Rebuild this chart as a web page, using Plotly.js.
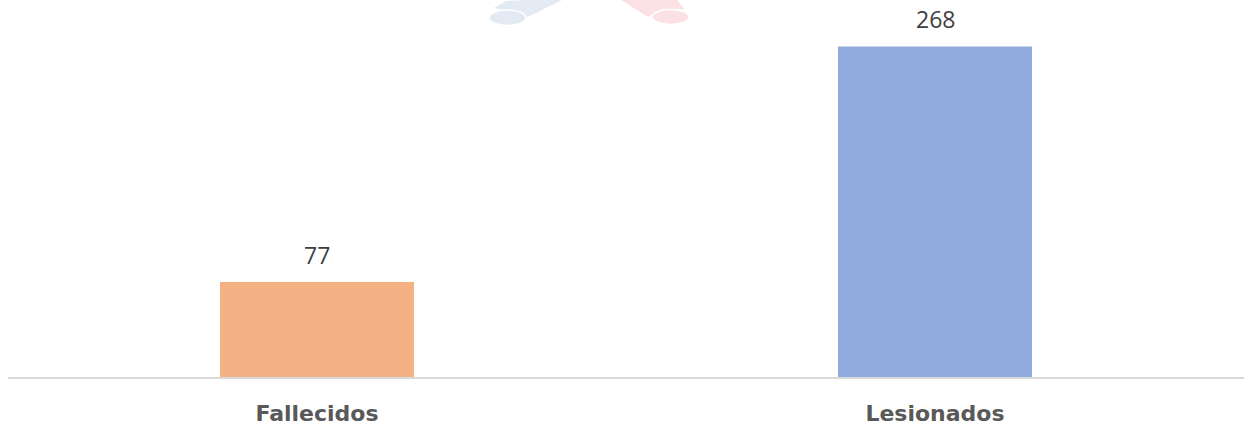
<!DOCTYPE html>
<html>
<head>
<meta charset="utf-8">
<script src="https://cdn.plot.ly/plotly-3.0.1.min.js"></script>
<style>html,body{margin:0;padding:0;background:#fff;}#chart{width:1244px;height:425px;}</style>
</head>
<body>
<div id="chart"></div>
<script>
const categories = ["Fallecidos", "Lesionados"];
const values = [77, 268];
const barColors = ["#F4B183", "#8FAADC"];

const W = 1244, H = 425;
const margin = {l: 8, r: 0, t: 7, b: 48};
const plotW = W - margin.l - margin.r, plotH = H - margin.t - margin.b;
function px(x){ return (x - margin.l) / plotW; }
function py(y){ return (H - margin.b - y) / plotH; }
function path(pts){ return 'M' + pts.map(p => px(p[0]).toFixed(5) + ',' + py(p[1]).toFixed(5)).join(' L') + ' Z'; }

// faint watermark logo pieces at top center
const shapes = [
  {type:'path', xref:'paper', yref:'paper', path: path([[494,8],[506,1],[566,-2],[528,17],[512,12]]), fillcolor:'#E3EAF4', line:{width:0}, layer:'below'},
  {type:'circle', xref:'paper', yref:'paper', x0:px(489), x1:px(526), y0:py(25.5), y1:py(10), fillcolor:'#E3EAF4', line:{color:'#ffffff', width:1.5}, layer:'below'},
  {type:'path', xref:'paper', yref:'paper', path: path([[618,-2],[676,-2],[684,9],[662,9],[648,17]]), fillcolor:'#FBE1E4', line:{width:0}, layer:'below'},
  {type:'circle', xref:'paper', yref:'paper', x0:px(652), x1:px(689), y0:py(24.5), y1:py(9.5), fillcolor:'#FBE1E4', line:{color:'#ffffff', width:1.5}, layer:'below'}
];

const annotations = categories.map((c, i) => ({
  x: c, y: values[i], xref:'x', yref:'y', text: String(values[i]),
  showarrow:false, yanchor:'bottom', yshift: 9,
  font:{family:'"Open Sans", sans-serif', size:23, color:'#404040'}
}));

const data = [{
  type:'bar', x: categories, y: values,
  marker:{color: barColors, line:{width:0}},
  width: 0.314, hoverinfo:'none'
}];

const layout = {
  width: W, height: H, margin: margin,
  paper_bgcolor:'#ffffff', plot_bgcolor:'#ffffff',
  showlegend:false,
  xaxis:{
    type:'category', range:[-0.5, 1.5], showgrid:false, zeroline:false,
    showline:true, linecolor:'#D9D9D9', linewidth:2, ticks:'',
    tickfont:{family:'"DejaVu Sans", sans-serif', size:22, color:'#595959', weight:'bold'},
    ticklabelstandoff: 16, automargin:false, fixedrange:true
  },
  yaxis:{range:[0, 300], visible:false, fixedrange:true},
  shapes: shapes, annotations: annotations
};

Plotly.newPlot('chart', data, layout, {displayModeBar:false, staticPlot:true});
</script>
</body>
</html>
